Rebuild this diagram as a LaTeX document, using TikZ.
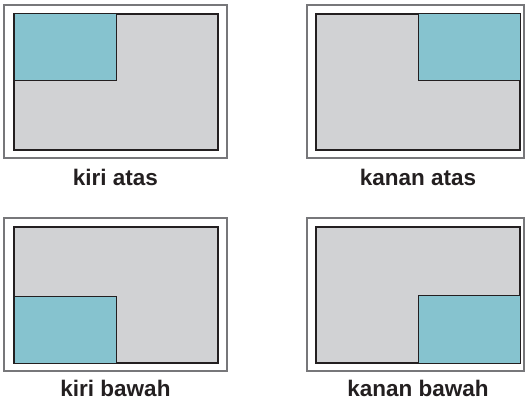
\documentclass[tikz,border=0pt]{standalone}
\usepackage{fontspec}
\setmainfont{Liberation Sans}
\definecolor{framegray}{HTML}{77777A}
\definecolor{panelgray}{HTML}{D1D2D4}
\definecolor{boxblue}{HTML}{86C3CF}
\definecolor{edge}{HTML}{231F20}
\tikzset{
  outerframe/.style={draw=framegray, line width=2pt, fill=white},
  panel/.style={draw=edge, line width=1.8pt, fill=panelgray},
  bluebox/.style={draw=edge, line width=1pt, fill=boxblue},
  caption/.style={font=\fontsize{22.5}{27}\selectfont\bfseries, text=edge, inner sep=0pt, anchor=base}
}
\begin{document}
\begin{tikzpicture}[x=1pt,y=-1pt]
\useasboundingbox (0,0) rectangle (526,401);
% top-left
\draw[outerframe] (4,5) rectangle (227,158);
\draw[panel] (14,14) rectangle (218,150);
\draw[bluebox] (14,14) rectangle (116,81);
\node[caption] (ka) at (115.5,185) {kiri atas};
% top-right
\draw[outerframe] (307,5) rectangle (524,158);
\draw[panel] (316,14) rectangle (520,150);
\draw[bluebox] (418,14) rectangle (520,81);
\node[caption] (kna) at (418,185) {kanan atas};
% bottom-left
\draw[outerframe] (4,218) rectangle (227,371);
\draw[panel] (14,227) rectangle (218,363);
\draw[bluebox] (14,296) rectangle (116,363);
\node[caption] (kb) at (115.5,396.5) {kiri bawah};
% bottom-right
\draw[outerframe] (307,218) rectangle (524,371);
\draw[panel] (316,227) rectangle (520,363);
\draw[bluebox] (418,295) rectangle (520,363);
\node[caption] (knb) at (418,396.5) {kanan bawah};
\end{tikzpicture}
\end{document}
